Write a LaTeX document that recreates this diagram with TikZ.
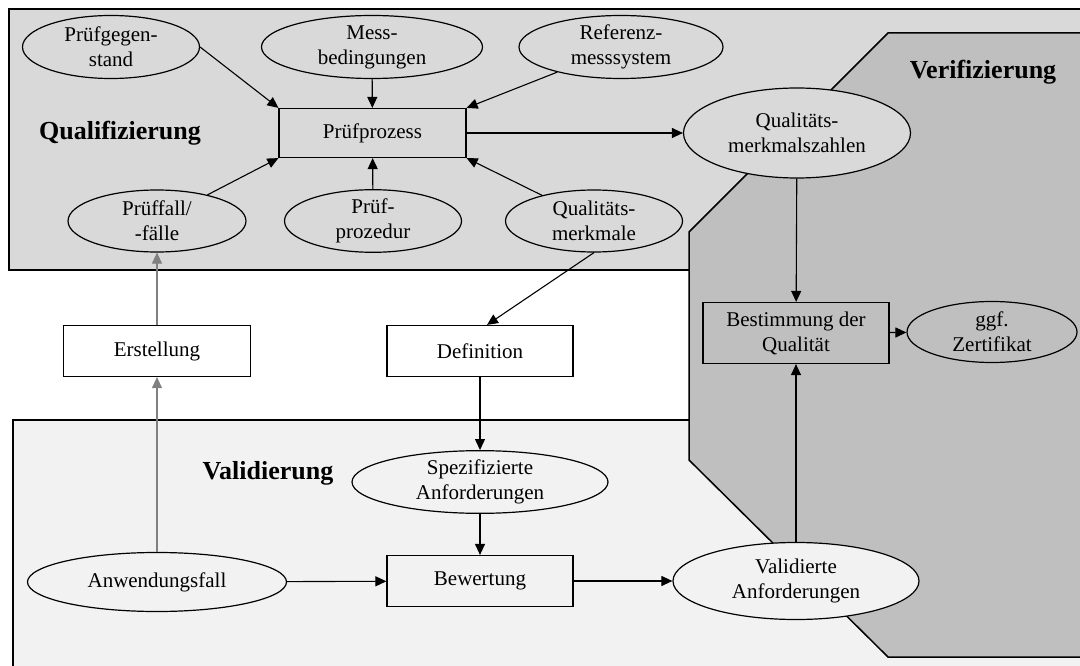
\documentclass[tikz,border=0pt]{standalone}
\usepackage{fontspec}
\setmainfont{Liberation Serif}
\usetikzlibrary{shapes.geometric,arrows.meta}

\definecolor{qualgray}{HTML}{D9D9D9}
\definecolor{verigray}{HTML}{BFBFBF}
\definecolor{valigray}{HTML}{F2F2F2}

\tikzset{
  txt/.style={font=\fontsize{21}{25}\selectfont, align=center, text=black},
  oval/.style={txt, ellipse, draw=black, line width=1.2pt, inner sep=0pt},
  box/.style={txt, rectangle, draw=black, line width=1.2pt, inner sep=0pt},
  area/.style={draw=black, line width=1.5pt},
  title/.style={font=\fontsize{26}{30}\selectfont\bfseries, text=black},
  conn/.style={line width=1.1pt, draw=black, -{Triangle[length=11pt,width=10pt]}},
  paleconn/.style={conn, draw=black!50},
}

\begin{document}
\begin{tikzpicture}[x=1pt, y=-1pt]
\useasboundingbox (0,0) rectangle (1080,666);

% background areas
\begin{scope}
  \clip (0,0) rectangle (1080,666);
  \filldraw[area, fill=valigray] (13,420) rectangle (1120,700);
  \filldraw[area, fill=qualgray] (9,9) rectangle (1120,270);
  \filldraw[area, fill=verigray] (1120,33) -- (888,33) -- (689,232) -- (689,460)
    -- (888,657) -- (1120,657);
\end{scope}

% area titles
\node[title] (tqual) at (120,133) {Qualifizierung};
\node[title] (tveri) at (983,72) {Verifizierung};
\node[title] (tvali) at (268,473) {Validierung};

% Qualifizierung
\node[oval, fill=qualgray, minimum width=177pt, minimum height=63pt] (pg) at (111,47) {Prüfgegen-\\stand};
\node[oval, fill=qualgray, minimum width=221pt, minimum height=63pt] (mb) at (372,47) {Mess-\\bedingungen};
\node[oval, fill=qualgray, minimum width=204pt, minimum height=63pt] (rm) at (621,47) {Referenz-\\messsystem};
\node[box, fill=qualgray, minimum width=187pt, minimum height=49pt] (pp) at (372.5,133) {Prüfprozess};
\node[oval, fill=qualgray, minimum width=178pt, minimum height=62pt] (pf) at (157,221) {Prüffall/\\-fälle};
\node[oval, fill=qualgray, minimum width=177pt, minimum height=62pt] (pz) at (373,221) {Prüf-\\prozedur};
\node[oval, fill=qualgray, minimum width=177pt, minimum height=62pt] (qm) at (594,221) {Qualitäts-\\merkmale};

% Verifizierung
\node[oval, fill=qualgray, minimum width=227pt, minimum height=90pt] (qz) at (797,133) {Qualitäts-\\merkmalszahlen};
\node[box, fill=verigray, minimum width=186pt, minimum height=61pt] (bq) at (796,333) {Bestimmung der\\Qualität};
\node[oval, fill=verigray, minimum width=170pt, minimum height=61pt] (zf) at (992,332) {ggf.\\Zertifikat};

% between the areas
\node[box, fill=white, minimum width=187pt, minimum height=51pt] (er) at (157,351) {Erstellung};
\node[box, fill=white, minimum width=186pt, minimum height=51pt] (df) at (480,351) {Definition};

% Validierung
\node[oval, fill=valigray, minimum width=256pt, minimum height=62pt] (sa) at (480,482) {Spezifizierte\\Anforderungen};
\node[box, fill=valigray, minimum width=186pt, minimum height=51pt] (bw) at (480,581) {Bewertung};
\node[oval, fill=valigray, minimum width=259pt, minimum height=59pt] (af) at (157,582) {Anwendungsfall};
\node[oval, fill=valigray, minimum width=246pt, minimum height=77pt] (va) at (796,581) {Validierte\\Anforderungen};

% connectors
\draw[conn] (pg.east) -- (pp.north west);
\draw[conn] (mb) -- (pp);
\draw[conn] (rm) -- (pp.north east);
\draw[conn] (pf) -- (pp.south west);
\draw[conn] (pz) -- (pp);
\draw[conn] (qm) -- (pp.south east);
\draw[conn] (pp) -- (qz);
\draw[conn] (qz) -- (bq);
\draw[conn] (qm.south) -- ([xshift=7pt]df.north);
\draw[conn] (df) -- (sa);
\draw[conn] (sa) -- (bw);
\draw[conn] (af) -- (bw);
\draw[conn] (bw) -- (va);
\draw[conn] (va) -- (bq);
\draw[conn] (bq) -- (zf);
\draw[paleconn] (af) -- (er);
\draw[paleconn] (er) -- (pf);
\end{tikzpicture}
\end{document}
